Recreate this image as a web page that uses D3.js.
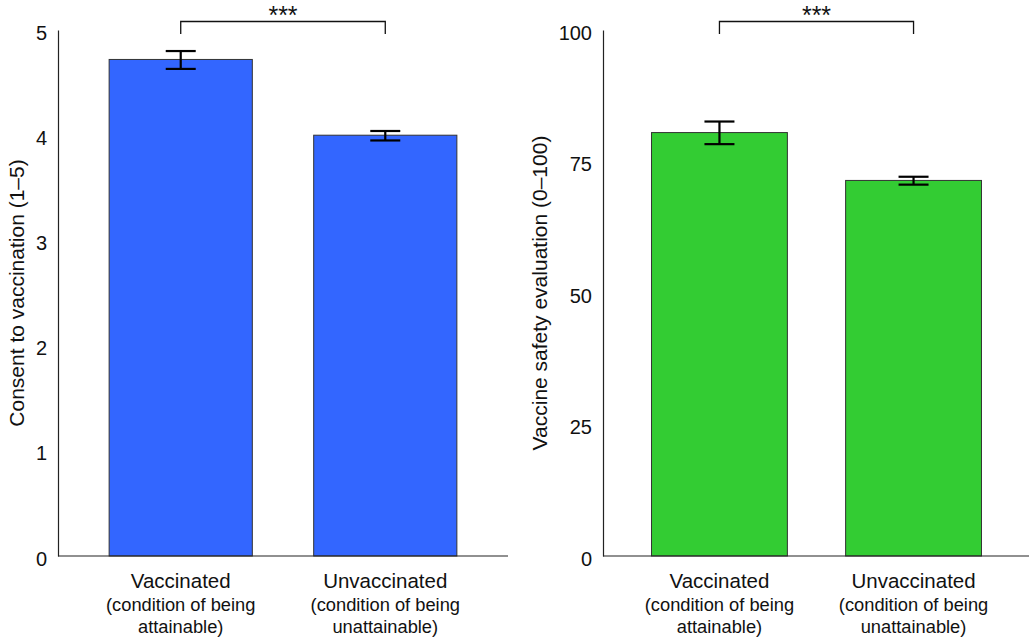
<!DOCTYPE html>
<html>
<head>
<meta charset="utf-8">
<script src="https://cdn.jsdelivr.net/npm/d3@7"></script>
<style>
  body { margin: 0; background: #fff; }
  svg { display: block; font-family: "Liberation Sans", Arial, Helvetica, sans-serif; }
</style>
</head>
<body>
<div id="chart"></div>
<script>
const categories = ["Vaccinated", "Unvaccinated"];
const subLabels = [["(condition of being", "attainable)"], ["(condition of being", "unattainable)"]];

const consentMeans = [4.72, 4.00];
const consentLower = [4.63, 3.95];
const consentUpper = [4.80, 4.04];
const consentTicks = [0, 1, 2, 3, 4, 5];

const safetyMeans = [80.5, 71.4];
const safetyLower = [78.3, 70.6];
const safetyUpper = [82.6, 72.1];
const safetyTicks = [0, 25, 50, 75, 100];

const significance = "***";

document.addEventListener("DOMContentLoaded", setup)

function setup(){
    const width = 1029;
    const height = 641;
    const svg = d3.select("#chart").append("svg")
        .attr("width", width)
        .attr("height", height);

    drawPanel(svg, {
        x0: 58, x1: 508, top: 30, bottom: 556,
        max: 5, ticks: consentTicks,
        means: consentMeans, lower: consentLower, upper: consentUpper,
        fill: "#3366ff", title: "Consent to vaccination (1\u20135)", titleX: 17
    });
    drawPanel(svg, {
        x0: 603, x1: 1030, top: 30, bottom: 556,
        max: 100, ticks: safetyTicks,
        means: safetyMeans, lower: safetyLower, upper: safetyUpper,
        fill: "#33cc33", title: "Vaccine safety evaluation (0\u2013100)", titleX: 540
    });
}

function drawPanel(svg, p){
    const x = d3.scaleBand()
        .domain(categories)
        .range([p.x0, p.x1])
        .paddingInner(0.3)
        .paddingOuter(0.25);
    const y = d3.scaleLinear()
        .domain([0, p.max])
        .range([p.bottom, p.top]);

    const g = svg.append("g");

    // bars
    g.selectAll("rect.bar")
        .data(p.means)
        .enter()
        .append("rect")
        .attr("class", "bar")
        .attr("x", (d, i) => x(categories[i]))
        .attr("y", d => y(d))
        .attr("width", x.bandwidth())
        .attr("height", d => y(0) - y(d))
        .attr("fill", p.fill)
        .attr("stroke", "#333")
        .attr("stroke-width", 1);

    // error bars
    const cap = 15;
    categories.forEach((c, i) => {
        const cx = x(c) + x.bandwidth() / 2;
        const eb = g.append("g")
            .attr("stroke", "#000")
            .attr("stroke-width", 2.2);
        eb.append("line").attr("x1", cx).attr("x2", cx)
            .attr("y1", y(p.lower[i])).attr("y2", y(p.upper[i]));
        eb.append("line").attr("x1", cx - cap).attr("x2", cx + cap)
            .attr("y1", y(p.lower[i])).attr("y2", y(p.lower[i]));
        eb.append("line").attr("x1", cx - cap).attr("x2", cx + cap)
            .attr("y1", y(p.upper[i])).attr("y2", y(p.upper[i]));
    });

    // y axis
    const yAxis = g.append("g")
        .attr("transform", "translate(" + p.x0 + ",0)")
        .call(d3.axisLeft(y).tickValues(p.ticks).tickFormat(d3.format("d")).tickSize(0).tickPadding(11));
    yAxis.select(".domain").attr("stroke", "#222").attr("stroke-width", 1.2);
    yAxis.selectAll("text")
        .attr("font-size", 20)
        .attr("fill", "#111")
        .attr("dy", "0.45em")
        .style("font-family", "Liberation Sans, Arial, sans-serif");

    // x baseline
    g.append("line")
        .attr("x1", p.x0).attr("x2", p.x1)
        .attr("y1", y(0)).attr("y2", y(0))
        .attr("stroke", "#222")
        .attr("stroke-width", 1.2);

    // category labels
    categories.forEach((c, i) => {
        const cx = x(c) + x.bandwidth() / 2;
        g.append("text")
            .attr("x", cx).attr("y", 588)
            .attr("text-anchor", "middle")
            .attr("font-size", 20.5)
            .attr("fill", "#111")
            .text(c);
        subLabels[i].forEach((s, j) => {
            g.append("text")
                .attr("x", cx).attr("y", 611 + j * 22)
                .attr("text-anchor", "middle")
                .attr("font-size", 18.3)
                .attr("fill", "#111")
                .text(s);
        });
    });

    // y title
    g.append("text")
        .attr("transform", "translate(" + p.titleX + "," + ((p.top + p.bottom) / 2) + ") rotate(-90)")
        .attr("text-anchor", "middle")
        .attr("dy", "0.35em")
        .attr("font-size", 21)
        .attr("fill", "#111")
        .text(p.title);

    // significance bracket
    const bx1 = x(categories[0]) + x.bandwidth() / 2;
    const bx2 = x(categories[1]) + x.bandwidth() / 2;
    g.append("path")
        .attr("d", "M" + bx1 + ",34V21.5H" + bx2 + "V34")
        .attr("fill", "none")
        .attr("stroke", "#111")
        .attr("stroke-width", 1.3);
    g.append("text")
        .attr("x", (bx1 + bx2) / 2).attr("y", 24)
        .attr("text-anchor", "middle")
        .attr("font-size", 25)
        .attr("letter-spacing", 0)
        .attr("fill", "#111")
        .text(significance);
}
</script>
</body>
</html>
